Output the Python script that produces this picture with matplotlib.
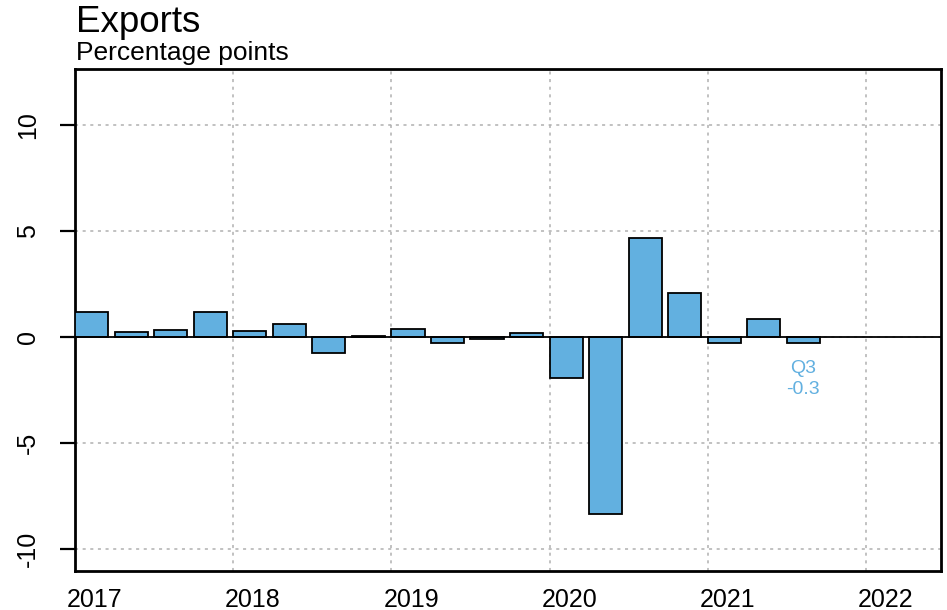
import numpy as np
import matplotlib
matplotlib.use("Agg")
from matplotlib import pyplot as plt

plt.rcParams["font.family"] = ["Liberation Sans", "DejaVu Sans"]

# quarterly contributions, 2017Q1 .. 2021Q3
quarters = [2017 + i * 0.25 for i in range(19)]
values = [1.17, 0.22, 0.35, 1.2, 0.26, 0.63, -0.78, 0.03, 0.36, -0.27,
          -0.1, 0.18, -1.95, -8.35, 4.67, 2.08, -0.3, 0.83, -0.3]
years = [2017, 2018, 2019, 2020, 2021, 2022]
yticks = [-10, -5, 0, 5, 10]
bar_color = "#62b0e0"

fig = plt.figure(figsize=(9.47, 6.1), dpi=100)
ax = fig.add_axes([75 / 947, 39 / 610, 866 / 947, 502 / 610])

ax.bar(quarters, values, width=0.21, align="edge", color=bar_color,
       edgecolor="black", linewidth=1.3, zorder=3)
ax.axhline(0, color="black", linewidth=1.3, zorder=4)

ax.set_xlim(2017, 2022.475)
ax.set_ylim(-11.04, 12.64)
# gridlines at year starts, labels centred on the first quarter
ax.set_xticks(years)
ax.set_xticklabels([])
ax.set_xticks([y + 0.125 for y in years], minor=True)
ax.set_xticklabels([str(y) for y in years], minor=True, fontsize=18)
ax.tick_params(axis="x", which="both", length=0, pad=12)
ax.set_yticks(yticks)
ax.set_yticklabels([str(y) for y in yticks], fontsize=18, rotation=90, va="center")
ax.tick_params(axis="y", length=11, width=1.6, pad=14)
ax.grid(True, which="major", color="#b0b0b0", linestyle=(0, (2, 3)), linewidth=1.1, zorder=0)
for s in ax.spines.values():
    s.set_linewidth(2)

last = values[-1]
ax.text(quarters[-1] + 0.105, last - 0.8, "Q3\n%.1f" % last, color=bar_color,
        fontsize=14, ha="center", va="top", linespacing=1.25)

fig.text(76 / 947, 1 - 22 / 610, "Exports", fontsize=26.5, va="center", ha="left")
fig.text(76 / 947, 1 - 53 / 610, "Percentage points", fontsize=19, va="center", ha="left")

fig.savefig("out.png", dpi=100)
